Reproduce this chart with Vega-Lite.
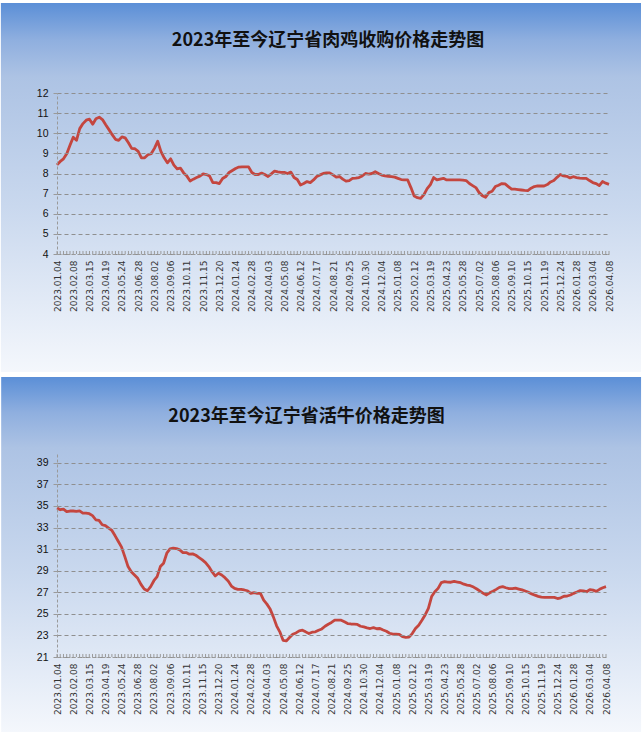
{
  "$schema": "https://vega.github.io/schema/vega-lite/v6.json",
  "background": "white",
  "padding": {"left": 0, "top": 3, "right": 4, "bottom": 0},
  "config": {
    "view": {"stroke": null},
    "title": {"font": "Noto Sans CJK SC", "fontSize": 18, "fontWeight": "bold", "color": "#111111", "baseline": "middle", "anchor": "middle", "zindex": 1},
    "axisY": {
      "gridColor": "#8f8f8f", "gridDash": [4, 3],
      "domainColor": "#9a9a9a", "domainDash": [3, 2],
      "tickColor": "#9a9a9a", "tickSize": 4,
      "labelFont": "Liberation Sans", "labelFontSize": 10.5, "labelColor": "#111111", "labelPadding": 5,
      "title": null
    },
    "axisX": {
      "grid": false, "ticks": false,
      "domainColor": "#9a9a9a", "domainDash": [3, 2],
      "labelFont": "DejaVu Sans", "labelFontSize": 9, "labelColor": "#333333", "labelAngle": -90, "labelPadding": 6,
      "labelFlush": false, "labelBound": false,
      "format": "%Y.%m.%d", "title": null
    }
  },
  "datasets": {
    "weekly": [
      {"date": "2023/01/04", "chicken": 8.43, "cattle": 34.8},
      {"date": "2023/01/11", "chicken": 8.6, "cattle": 34.65},
      {"date": "2023/01/18", "chicken": 8.73, "cattle": 34.7},
      {"date": "2023/01/25", "chicken": 8.98, "cattle": 34.47},
      {"date": "2023/02/01", "chicken": 9.4, "cattle": 34.53},
      {"date": "2023/02/08", "chicken": 9.8, "cattle": 34.53},
      {"date": "2023/02/15", "chicken": 9.65, "cattle": 34.5},
      {"date": "2023/02/22", "chicken": 10.23, "cattle": 34.55},
      {"date": "2023/03/01", "chicken": 10.48, "cattle": 34.34},
      {"date": "2023/03/08", "chicken": 10.65, "cattle": 34.33},
      {"date": "2023/03/15", "chicken": 10.7, "cattle": 34.28},
      {"date": "2023/03/22", "chicken": 10.45, "cattle": 34.1},
      {"date": "2023/03/29", "chicken": 10.72, "cattle": 33.72},
      {"date": "2023/04/05", "chicken": 10.8, "cattle": 33.66},
      {"date": "2023/04/12", "chicken": 10.68, "cattle": 33.26},
      {"date": "2023/04/19", "chicken": 10.42, "cattle": 33.17},
      {"date": "2023/04/26", "chicken": 10.18, "cattle": 32.95},
      {"date": "2023/05/03", "chicken": 9.93, "cattle": 32.73},
      {"date": "2023/05/10", "chicken": 9.7, "cattle": 32.23},
      {"date": "2023/05/17", "chicken": 9.65, "cattle": 31.7},
      {"date": "2023/05/24", "chicken": 9.82, "cattle": 31.18},
      {"date": "2023/05/31", "chicken": 9.77, "cattle": 30.3},
      {"date": "2023/06/07", "chicken": 9.53, "cattle": 29.38},
      {"date": "2023/06/14", "chicken": 9.25, "cattle": 28.91},
      {"date": "2023/06/21", "chicken": 9.23, "cattle": 28.6},
      {"date": "2023/06/28", "chicken": 9.1, "cattle": 28.29},
      {"date": "2023/07/05", "chicken": 8.78, "cattle": 27.73},
      {"date": "2023/07/12", "chicken": 8.78, "cattle": 27.3},
      {"date": "2023/07/19", "chicken": 8.93, "cattle": 27.14},
      {"date": "2023/07/26", "chicken": 8.98, "cattle": 27.52},
      {"date": "2023/08/02", "chicken": 9.25, "cattle": 28.07},
      {"date": "2023/08/09", "chicken": 9.6, "cattle": 28.45},
      {"date": "2023/08/16", "chicken": 9.1, "cattle": 29.38},
      {"date": "2023/08/23", "chicken": 8.78, "cattle": 29.69},
      {"date": "2023/08/30", "chicken": 8.53, "cattle": 30.62},
      {"date": "2023/09/06", "chicken": 8.73, "cattle": 31.02},
      {"date": "2023/09/13", "chicken": 8.42, "cattle": 31.09},
      {"date": "2023/09/20", "chicken": 8.23, "cattle": 31.05},
      {"date": "2023/09/27", "chicken": 8.27, "cattle": 30.93},
      {"date": "2023/10/04", "chicken": 8.03, "cattle": 30.68},
      {"date": "2023/10/11", "chicken": 7.87, "cattle": 30.68},
      {"date": "2023/10/18", "chicken": 7.63, "cattle": 30.53},
      {"date": "2023/10/25", "chicken": 7.72, "cattle": 30.56},
      {"date": "2023/11/01", "chicken": 7.8, "cattle": 30.43},
      {"date": "2023/11/08", "chicken": 7.87, "cattle": 30.22},
      {"date": "2023/11/15", "chicken": 7.98, "cattle": 30.0},
      {"date": "2023/11/22", "chicken": 7.95, "cattle": 29.75},
      {"date": "2023/11/29", "chicken": 7.87, "cattle": 29.38},
      {"date": "2023/12/06", "chicken": 7.55, "cattle": 28.91},
      {"date": "2023/12/13", "chicken": 7.55, "cattle": 28.51},
      {"date": "2023/12/20", "chicken": 7.5, "cattle": 28.76},
      {"date": "2023/12/27", "chicken": 7.75, "cattle": 28.6},
      {"date": "2024/01/03", "chicken": 7.85, "cattle": 28.35},
      {"date": "2024/01/10", "chicken": 8.05, "cattle": 28.04},
      {"date": "2024/01/17", "chicken": 8.15, "cattle": 27.58},
      {"date": "2024/01/24", "chicken": 8.25, "cattle": 27.36},
      {"date": "2024/01/31", "chicken": 8.32, "cattle": 27.27},
      {"date": "2024/02/07", "chicken": 8.33, "cattle": 27.27},
      {"date": "2024/02/14", "chicken": 8.33, "cattle": 27.21},
      {"date": "2024/02/21", "chicken": 8.33, "cattle": 27.14},
      {"date": "2024/02/28", "chicken": 8.05, "cattle": 26.9},
      {"date": "2024/03/06", "chicken": 7.95, "cattle": 26.96},
      {"date": "2024/03/13", "chicken": 7.95, "cattle": 26.9},
      {"date": "2024/03/20", "chicken": 8.02, "cattle": 26.9},
      {"date": "2024/03/27", "chicken": 7.95, "cattle": 26.27},
      {"date": "2024/04/03", "chicken": 7.85, "cattle": 25.9},
      {"date": "2024/04/10", "chicken": 7.98, "cattle": 25.44},
      {"date": "2024/04/17", "chicken": 8.12, "cattle": 24.72},
      {"date": "2024/04/24", "chicken": 8.08, "cattle": 23.89},
      {"date": "2024/05/01", "chicken": 8.06, "cattle": 23.33},
      {"date": "2024/05/08", "chicken": 8.06, "cattle": 22.55},
      {"date": "2024/05/15", "chicken": 8.0, "cattle": 22.49},
      {"date": "2024/05/22", "chicken": 8.07, "cattle": 22.8},
      {"date": "2024/05/29", "chicken": 7.8, "cattle": 23.11},
      {"date": "2024/06/05", "chicken": 7.7, "cattle": 23.23},
      {"date": "2024/06/12", "chicken": 7.43, "cattle": 23.42},
      {"date": "2024/06/19", "chicken": 7.5, "cattle": 23.48},
      {"date": "2024/06/26", "chicken": 7.6, "cattle": 23.33},
      {"date": "2024/07/03", "chicken": 7.55, "cattle": 23.17},
      {"date": "2024/07/10", "chicken": 7.68, "cattle": 23.3},
      {"date": "2024/07/17", "chicken": 7.85, "cattle": 23.33},
      {"date": "2024/07/24", "chicken": 7.93, "cattle": 23.48},
      {"date": "2024/07/31", "chicken": 8.0, "cattle": 23.6},
      {"date": "2024/08/07", "chicken": 8.03, "cattle": 23.85},
      {"date": "2024/08/14", "chicken": 8.03, "cattle": 24.04},
      {"date": "2024/08/21", "chicken": 7.93, "cattle": 24.2},
      {"date": "2024/08/28", "chicken": 7.82, "cattle": 24.41},
      {"date": "2024/09/04", "chicken": 7.85, "cattle": 24.42},
      {"date": "2024/09/11", "chicken": 7.72, "cattle": 24.41},
      {"date": "2024/09/18", "chicken": 7.62, "cattle": 24.26},
      {"date": "2024/09/25", "chicken": 7.65, "cattle": 24.1},
      {"date": "2024/10/02", "chicken": 7.76, "cattle": 24.06},
      {"date": "2024/10/09", "chicken": 7.77, "cattle": 24.04},
      {"date": "2024/10/16", "chicken": 7.8, "cattle": 24.02},
      {"date": "2024/10/23", "chicken": 7.88, "cattle": 23.85},
      {"date": "2024/10/30", "chicken": 8.0, "cattle": 23.79},
      {"date": "2024/11/06", "chicken": 7.97, "cattle": 23.7},
      {"date": "2024/11/13", "chicken": 8.0, "cattle": 23.64},
      {"date": "2024/11/20", "chicken": 8.09, "cattle": 23.72},
      {"date": "2024/11/27", "chicken": 8.0, "cattle": 23.62},
      {"date": "2024/12/04", "chicken": 7.92, "cattle": 23.64},
      {"date": "2024/12/11", "chicken": 7.88, "cattle": 23.5},
      {"date": "2024/12/18", "chicken": 7.86, "cattle": 23.38},
      {"date": "2024/12/25", "chicken": 7.84, "cattle": 23.2},
      {"date": "2025/01/01", "chicken": 7.82, "cattle": 23.12},
      {"date": "2025/01/08", "chicken": 7.76, "cattle": 23.11},
      {"date": "2025/01/15", "chicken": 7.7, "cattle": 23.1},
      {"date": "2025/01/22", "chicken": 7.68, "cattle": 22.88},
      {"date": "2025/01/29", "chicken": 7.68, "cattle": 22.82},
      {"date": "2025/02/05", "chicken": 7.3, "cattle": 22.84},
      {"date": "2025/02/12", "chicken": 6.88, "cattle": 23.17},
      {"date": "2025/02/19", "chicken": 6.8, "cattle": 23.64},
      {"date": "2025/02/26", "chicken": 6.76, "cattle": 23.95},
      {"date": "2025/03/05", "chicken": 6.95, "cattle": 24.41},
      {"date": "2025/03/12", "chicken": 7.25, "cattle": 24.9},
      {"date": "2025/03/19", "chicken": 7.45, "cattle": 25.5},
      {"date": "2025/03/26", "chicken": 7.8, "cattle": 26.6},
      {"date": "2025/04/02", "chicken": 7.68, "cattle": 27.05},
      {"date": "2025/04/09", "chicken": 7.72, "cattle": 27.36},
      {"date": "2025/04/16", "chicken": 7.76, "cattle": 27.89},
      {"date": "2025/04/23", "chicken": 7.68, "cattle": 27.98},
      {"date": "2025/04/30", "chicken": 7.68, "cattle": 27.94},
      {"date": "2025/05/07", "chicken": 7.68, "cattle": 27.93},
      {"date": "2025/05/14", "chicken": 7.68, "cattle": 28.0},
      {"date": "2025/05/21", "chicken": 7.68, "cattle": 27.95},
      {"date": "2025/05/28", "chicken": 7.67, "cattle": 27.89},
      {"date": "2025/06/04", "chicken": 7.65, "cattle": 27.75},
      {"date": "2025/06/11", "chicken": 7.5, "cattle": 27.67},
      {"date": "2025/06/18", "chicken": 7.4, "cattle": 27.61},
      {"date": "2025/06/25", "chicken": 7.3, "cattle": 27.48},
      {"date": "2025/07/02", "chicken": 7.05, "cattle": 27.3},
      {"date": "2025/07/09", "chicken": 6.9, "cattle": 27.1},
      {"date": "2025/07/16", "chicken": 6.82, "cattle": 26.9},
      {"date": "2025/07/23", "chicken": 7.05, "cattle": 26.75},
      {"date": "2025/07/30", "chicken": 7.12, "cattle": 26.95},
      {"date": "2025/08/06", "chicken": 7.35, "cattle": 27.1},
      {"date": "2025/08/13", "chicken": 7.42, "cattle": 27.27},
      {"date": "2025/08/20", "chicken": 7.5, "cattle": 27.45},
      {"date": "2025/08/27", "chicken": 7.48, "cattle": 27.52},
      {"date": "2025/09/03", "chicken": 7.35, "cattle": 27.42},
      {"date": "2025/09/10", "chicken": 7.22, "cattle": 27.34},
      {"date": "2025/09/17", "chicken": 7.22, "cattle": 27.33},
      {"date": "2025/09/24", "chicken": 7.2, "cattle": 27.38},
      {"date": "2025/10/01", "chicken": 7.18, "cattle": 27.3},
      {"date": "2025/10/08", "chicken": 7.16, "cattle": 27.22},
      {"date": "2025/10/15", "chicken": 7.15, "cattle": 27.12},
      {"date": "2025/10/22", "chicken": 7.27, "cattle": 27.0},
      {"date": "2025/10/29", "chicken": 7.35, "cattle": 26.85},
      {"date": "2025/11/05", "chicken": 7.38, "cattle": 26.73},
      {"date": "2025/11/12", "chicken": 7.38, "cattle": 26.62},
      {"date": "2025/11/19", "chicken": 7.38, "cattle": 26.54},
      {"date": "2025/11/26", "chicken": 7.45, "cattle": 26.52},
      {"date": "2025/12/03", "chicken": 7.58, "cattle": 26.52},
      {"date": "2025/12/10", "chicken": 7.65, "cattle": 26.52},
      {"date": "2025/12/17", "chicken": 7.81, "cattle": 26.52},
      {"date": "2025/12/24", "chicken": 7.95, "cattle": 26.42},
      {"date": "2025/12/31", "chicken": 7.88, "cattle": 26.49},
      {"date": "2026/01/07", "chicken": 7.86, "cattle": 26.63},
      {"date": "2026/01/14", "chicken": 7.78, "cattle": 26.65},
      {"date": "2026/01/21", "chicken": 7.84, "cattle": 26.75},
      {"date": "2026/01/28", "chicken": 7.8, "cattle": 26.9},
      {"date": "2026/02/04", "chicken": 7.77, "cattle": 27.02},
      {"date": "2026/02/11", "chicken": 7.76, "cattle": 27.15},
      {"date": "2026/02/18", "chicken": 7.76, "cattle": 27.12},
      {"date": "2026/02/25", "chicken": 7.65, "cattle": 27.05},
      {"date": "2026/03/04", "chicken": 7.55, "cattle": 27.25},
      {"date": "2026/03/11", "chicken": 7.5, "cattle": 27.2},
      {"date": "2026/03/18", "chicken": 7.4, "cattle": 27.08},
      {"date": "2026/03/25", "chicken": 7.6, "cattle": 27.27},
      {"date": "2026/04/01", "chicken": 7.52, "cattle": 27.42},
      {"date": "2026/04/08", "chicken": 7.46, "cattle": 27.52}
    ]
  },
  "vconcat": [
    {
      "width": 552,
      "height": 161,
      "title": {"text": "2023年至今辽宁省肉鸡收购价格走势图", "offset": -47, "dx": -5},
      "resolve": {"axis": {"x": "independent", "y": "independent"}},
      "layer": [
        {
          "data": {"values": [{}]},
          "mark": {
            "type": "rect", "clip": false,
            "fill": {"gradient": "linear", "x1": 0, "y1": 0, "x2": 0, "y2": 1,
              "stops": [
                {"offset": 0, "color": "#5b8fd7"},
                {"offset": 0.1, "color": "#8fafdf"},
                {"offset": 0.2, "color": "#adc3e4"},
                {"offset": 0.55, "color": "#c9d8ee"},
                {"offset": 1, "color": "#f4f7fc"}
              ]}
          },
          "encoding": {
            "x": {"datum": {"year": 2022, "month": 9, "date": 5}, "type": "temporal", "axis": null},
            "x2": {"datum": {"year": 2026, "month": 6, "date": 16}},
            "y": {"datum": 16.47, "type": "quantitative", "axis": null},
            "y2": {"datum": -1.86}
          }
        },
        {
          "data": {"name": "weekly"},
          "mark": {"type": "rule", "color": "#9a9a9a", "strokeWidth": 1},
          "encoding": {
            "x": {"field": "date", "type": "temporal", "axis": null},
            "y": {"datum": 4, "type": "quantitative", "axis": null},
            "y2": {"datum": 4.15}
          }
        },
        {
          "data": {"name": "weekly"},
          "mark": {"type": "line", "color": "#c4463f", "strokeWidth": 2.8, "strokeJoin": "round"},
          "encoding": {
            "x": {
              "field": "date", "type": "temporal",
              "scale": {"domain": [{"year": 2023, "month": 1, "date": 4}, {"year": 2026, "month": 4, "date": 8}], "nice": false},
              "axis": {"zindex": 1, "labelOverlap": false, "values": [
                {"year": 2023, "month": 1, "date": 4}, {"year": 2023, "month": 2, "date": 8}, {"year": 2023, "month": 3, "date": 15},
                {"year": 2023, "month": 4, "date": 19}, {"year": 2023, "month": 5, "date": 24}, {"year": 2023, "month": 6, "date": 28},
                {"year": 2023, "month": 8, "date": 2}, {"year": 2023, "month": 9, "date": 6}, {"year": 2023, "month": 10, "date": 11},
                {"year": 2023, "month": 11, "date": 15}, {"year": 2023, "month": 12, "date": 20}, {"year": 2024, "month": 1, "date": 24},
                {"year": 2024, "month": 2, "date": 28}, {"year": 2024, "month": 4, "date": 3}, {"year": 2024, "month": 5, "date": 8},
                {"year": 2024, "month": 6, "date": 12}, {"year": 2024, "month": 7, "date": 17}, {"year": 2024, "month": 8, "date": 21},
                {"year": 2024, "month": 9, "date": 25}, {"year": 2024, "month": 10, "date": 30}, {"year": 2024, "month": 12, "date": 4},
                {"year": 2025, "month": 1, "date": 8}, {"year": 2025, "month": 2, "date": 12}, {"year": 2025, "month": 3, "date": 19},
                {"year": 2025, "month": 4, "date": 23}, {"year": 2025, "month": 5, "date": 28}, {"year": 2025, "month": 7, "date": 2},
                {"year": 2025, "month": 8, "date": 6}, {"year": 2025, "month": 9, "date": 10}, {"year": 2025, "month": 10, "date": 15},
                {"year": 2025, "month": 11, "date": 19}, {"year": 2025, "month": 12, "date": 24}, {"year": 2026, "month": 1, "date": 28},
                {"year": 2026, "month": 3, "date": 4}, {"year": 2026, "month": 4, "date": 8}
              ]}
            },
            "y": {
              "field": "chicken", "type": "quantitative",
              "scale": {"domain": [4, 12], "zero": false, "nice": false},
              "axis": {"zindex": 1, "grid": true, "labelOverlap": false, "values": [4, 5, 6, 7, 8, 9, 10, 11, 12]}
            }
          }
        }
      ]
    },
    {
      "width": 549,
      "height": 205,
      "title": {"text": "2023年至今辽宁省活牛价格走势图", "offset": -49, "dx": -25},
      "resolve": {"axis": {"x": "independent", "y": "independent"}},
      "layer": [
        {
          "data": {"values": [{}]},
          "mark": {
            "type": "rect", "clip": false,
            "fill": {"gradient": "linear", "x1": 0, "y1": 0, "x2": 0, "y2": 1,
              "stops": [
                {"offset": 0, "color": "#5b8fd7"},
                {"offset": 0.1, "color": "#8fafdf"},
                {"offset": 0.2, "color": "#adc3e4"},
                {"offset": 0.55, "color": "#c9d8ee"},
                {"offset": 1, "color": "#f4f7fc"}
              ]}
          },
          "encoding": {
            "x": {"datum": {"year": 2022, "month": 9, "date": 5}, "type": "temporal", "axis": null},
            "x2": {"datum": {"year": 2026, "month": 6, "date": 23}},
            "y": {"datum": 46.95, "type": "quantitative", "axis": null},
            "y2": {"datum": 14.05}
          }
        },
        {
          "data": {"name": "weekly"},
          "mark": {"type": "rule", "color": "#9a9a9a", "strokeWidth": 1},
          "encoding": {
            "x": {"field": "date", "type": "temporal", "axis": null},
            "y": {"datum": 21, "type": "quantitative", "axis": null},
            "y2": {"datum": 21.28}
          }
        },
        {
          "data": {"name": "weekly"},
          "mark": {"type": "line", "color": "#c4463f", "strokeWidth": 2.8, "strokeJoin": "round"},
          "encoding": {
            "x": {
              "field": "date", "type": "temporal",
              "scale": {"domain": [{"year": 2023, "month": 1, "date": 4}, {"year": 2026, "month": 4, "date": 8}], "nice": false},
              "axis": {"zindex": 1, "labelOverlap": false, "values": [
                {"year": 2023, "month": 1, "date": 4}, {"year": 2023, "month": 2, "date": 8}, {"year": 2023, "month": 3, "date": 15},
                {"year": 2023, "month": 4, "date": 19}, {"year": 2023, "month": 5, "date": 24}, {"year": 2023, "month": 6, "date": 28},
                {"year": 2023, "month": 8, "date": 2}, {"year": 2023, "month": 9, "date": 6}, {"year": 2023, "month": 10, "date": 11},
                {"year": 2023, "month": 11, "date": 15}, {"year": 2023, "month": 12, "date": 20}, {"year": 2024, "month": 1, "date": 24},
                {"year": 2024, "month": 2, "date": 28}, {"year": 2024, "month": 4, "date": 3}, {"year": 2024, "month": 5, "date": 8},
                {"year": 2024, "month": 6, "date": 12}, {"year": 2024, "month": 7, "date": 17}, {"year": 2024, "month": 8, "date": 21},
                {"year": 2024, "month": 9, "date": 25}, {"year": 2024, "month": 10, "date": 30}, {"year": 2024, "month": 12, "date": 4},
                {"year": 2025, "month": 1, "date": 8}, {"year": 2025, "month": 2, "date": 12}, {"year": 2025, "month": 3, "date": 19},
                {"year": 2025, "month": 4, "date": 23}, {"year": 2025, "month": 5, "date": 28}, {"year": 2025, "month": 7, "date": 2},
                {"year": 2025, "month": 8, "date": 6}, {"year": 2025, "month": 9, "date": 10}, {"year": 2025, "month": 10, "date": 15},
                {"year": 2025, "month": 11, "date": 19}, {"year": 2025, "month": 12, "date": 24}, {"year": 2026, "month": 1, "date": 28},
                {"year": 2026, "month": 3, "date": 4}, {"year": 2026, "month": 4, "date": 8}
              ]}
            },
            "y": {
              "field": "cattle", "type": "quantitative",
              "scale": {"domain": [21, 40], "zero": false, "nice": false},
              "axis": {"zindex": 1, "grid": true, "labelOverlap": false, "values": [21, 23, 25, 27, 29, 31, 33, 35, 37, 39]}
            }
          }
        }
      ]
    }
  ],
  "spacing": 198,
  "bounds": "flush"
}
